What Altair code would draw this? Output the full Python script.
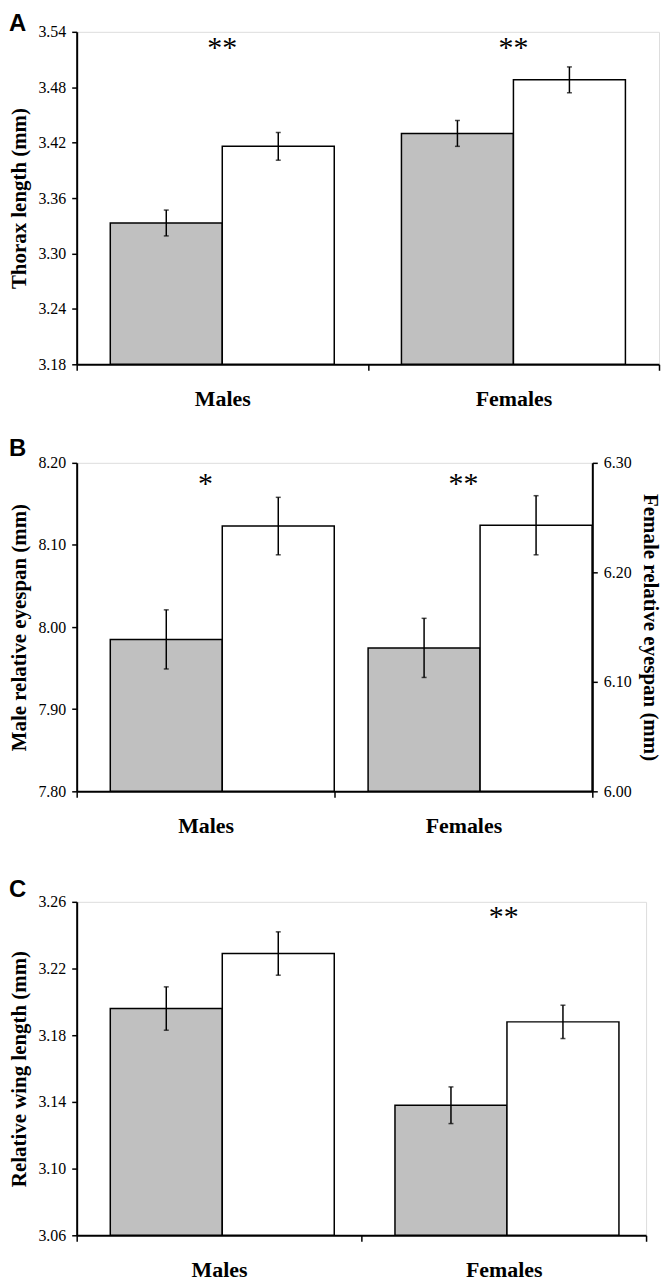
import altair as alt
import pandas as pd

# ---------------- data ----------------
sexes = ["Males", "Females"]
conditions = ["Grey", "White"]

# Panel A: thorax length (mm)
thorax_grey = [3.333, 3.430]
thorax_grey_se = [0.014, 0.014]
thorax_white = [3.416, 3.488]
thorax_white_se = [0.015, 0.014]
thorax_stars = ["**", "**"]
thorax_star_level = 3.522
thorax_ticks = [3.18, 3.24, 3.30, 3.36, 3.42, 3.48, 3.54]

# Panel B: relative eyespan (mm); males on left axis, females on right axis
male_eye_grey, male_eye_grey_se = 7.985, 0.036
male_eye_white, male_eye_white_se = 8.123, 0.035
female_eye_grey, female_eye_grey_se = 6.131, 0.027
female_eye_white, female_eye_white_se = 6.243, 0.027
eyespan_stars = ["*", "**"]
eyespan_star_level = 8.174
male_eye_ticks = [7.80, 7.90, 8.00, 8.10, 8.20]
female_eye_ticks = [6.00, 6.10, 6.20, 6.30]

# Panel C: relative wing length (mm)
wing_grey = [3.196, 3.138]
wing_grey_se = [0.013, 0.011]
wing_white = [3.229, 3.188]
wing_white_se = [0.013, 0.010]
wing_stars = ["", "**"]
wing_star_level = 3.251
wing_ticks = [3.06, 3.10, 3.14, 3.18, 3.22, 3.26]

SERIF = "Liberation Serif"
SANS = "Liberation Sans"


def make_df(sex_list, grey, grey_se, white, white_se):
    rows = []
    for i, s in enumerate(sex_list):
        rows.append({"sex": s, "condition": conditions[0], "mean": grey[i], "se": grey_se[i]})
        rows.append({"sex": s, "condition": conditions[1], "mean": white[i], "se": white_se[i]})
    return pd.DataFrame(rows)


XSCALE = alt.Scale(domain=sexes, paddingInner=0, paddingOuter=0)
OFFSCALE = alt.Scale(domain=conditions, paddingInner=0, paddingOuter=0.3)
FILLSCALE = alt.Scale(domain=conditions, range=["#c0c0c0", "#ffffff"])
XAXIS = alt.Axis(tickBand="extent", labelAngle=0, title=None)


def y_axis(values, title, orient="left"):
    return alt.Axis(values=values, format=".2f", title=title, orient=orient, grid=False)


def bar_layers(df, domain, axis):
    yscale = alt.Scale(domain=domain, nice=False, zero=False)
    base = alt.Chart(df).encode(
        x=alt.X("sex:N", scale=XSCALE, axis=XAXIS, sort=sexes),
        xOffset=alt.XOffset("condition:N", scale=OFFSCALE, sort=conditions),
    )
    bars = base.mark_bar(stroke="black", strokeWidth=1.5).encode(
        y=alt.Y("mean:Q", scale=yscale, axis=axis),
        y2=alt.datum(domain[0]),
        fill=alt.Fill("condition:N", scale=FILLSCALE, legend=None),
    )
    err = base.transform_calculate(lo="datum.mean - datum.se", hi="datum.mean + datum.se")
    rule = err.mark_rule(color="black", strokeWidth=1.5).encode(
        y=alt.Y("lo:Q", scale=yscale, axis=axis), y2="hi:Q"
    )
    cap_lo = err.mark_tick(color="black", thickness=1.5, size=5, orient="horizontal").encode(
        y=alt.Y("lo:Q", scale=yscale, axis=axis)
    )
    cap_hi = err.mark_tick(color="black", thickness=1.5, size=5, orient="horizontal").encode(
        y=alt.Y("hi:Q", scale=yscale, axis=axis)
    )
    return [bars, rule, cap_lo, cap_hi]


def star_layer(labels, level, domain, axis):
    df = pd.DataFrame({"sex": sexes, "label": labels, "level": [level] * len(sexes)})
    return alt.Chart(df).mark_text(font=SERIF, fontSize=30, baseline="middle", color="black").encode(
        x=alt.X("sex:N", scale=XSCALE, axis=XAXIS, sort=sexes),
        y=alt.Y("level:Q", scale=alt.Scale(domain=domain, nice=False, zero=False), axis=axis),
        text="label:N",
    )


def letter(t, offset):
    return alt.TitleParams(t, anchor="start", frame="bounds", font=SANS, fontSize=24,
                           fontWeight="bold", color="black", offset=offset)


# Panel A
dfA = make_df(sexes, thorax_grey, thorax_grey_se, thorax_white, thorax_white_se)
domA = [thorax_ticks[0], thorax_ticks[-1]]
axA = y_axis(thorax_ticks, "Thorax length (mm)")
panelA = alt.layer(
    *bar_layers(dfA, domA, axA), star_layer(thorax_stars, thorax_star_level, domA, axA)
).properties(width=585, height=334, title=letter("A", -12))

# Panel B
dfBm = make_df(["Males"], [male_eye_grey], [male_eye_grey_se], [male_eye_white], [male_eye_white_se])
dfBf = make_df(["Females"], [female_eye_grey], [female_eye_grey_se], [female_eye_white], [female_eye_white_se])
domBm = [male_eye_ticks[0], male_eye_ticks[-1]]
domBf = [female_eye_ticks[0], female_eye_ticks[-1]]
axBm = y_axis(male_eye_ticks, "Male relative eyespan (mm)")
axBf = y_axis(female_eye_ticks, "Female relative eyespan (mm)", orient="right")
male_layer = alt.layer(*bar_layers(dfBm, domBm, axBm),
                       star_layer(eyespan_stars, eyespan_star_level, domBm, axBm))
female_layer = alt.layer(*bar_layers(dfBf, domBf, axBf))
panelB = alt.layer(male_layer, female_layer).resolve_scale(y="independent").properties(
    width=518, height=330, title=letter("B", -6)
)

# Panel C
dfC = make_df(sexes, wing_grey, wing_grey_se, wing_white, wing_white_se)
domC = [wing_ticks[0], wing_ticks[-1]]
axC = y_axis(wing_ticks, "Relative wing length (mm)")
panelC = alt.layer(
    *bar_layers(dfC, domC, axC), star_layer(wing_stars, wing_star_level, domC, axC)
).properties(width=572, height=335, title=letter("C", -8))

chart = (
    alt.vconcat(alt.vconcat(panelA, panelB, spacing=26), panelC, spacing=40)
    .configure_view(stroke=None)
    .configure(background="white", padding=0)
    .configure_axis(
        domainColor="black", domainWidth=2, tickColor="black", tickWidth=1.5,
        labelColor="black", titleColor="black", labelFont=SERIF, titleFont=SERIF,
    )
    .configure_axisY(
        labelFontSize=16, tickSize=5, labelPadding=6,
        titleFontSize=21, titleFontWeight="bold", titlePadding=8,
    )
    .configure_axisX(
        labelFontSize=22, labelFontWeight="bold", tickSize=6, labelPadding=18,
    )
)

chart.save("out.html", embed_options={"renderer": "svg", "actions": False})
